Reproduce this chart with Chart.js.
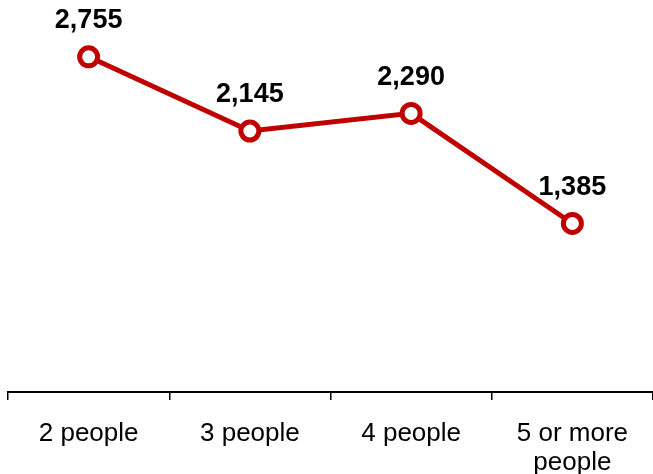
<!DOCTYPE html>
<html>
<head>
<meta charset="utf-8">
<script src="https://cdn.jsdelivr.net/npm/chart.js@4"></script>
<style>
  html, body { margin: 0; padding: 0; background: #fff; overflow: hidden; }
  #chart { position: absolute; left: 0; top: 0; }
</style>
</head>
<body>
<canvas id="chart" width="653" height="474"></canvas>
<script>
const categories = ["2 people", "3 people", "4 people", ["5 or more", "people"]];
const values = [2755, 2145, 2290, 1385];
const valueLabels = ["2,755", "2,145", "2,290", "1,385"];

const red = "#C00000";
const fontFamily = "'Liberation Sans', Arial, sans-serif";

// draws the bold numbers above each point
const pointLabels = {
    id: "pointLabels",
    afterDatasetsDraw(chart) {
        const ctx = chart.ctx;
        const meta = chart.getDatasetMeta(0);
        ctx.save();
        ctx.font = "bold 27px " + fontFamily;
        ctx.fillStyle = "#000";
        ctx.textAlign = "center";
        ctx.textBaseline = "middle";
        meta.data.forEach((pt, i) => {
            ctx.fillText(valueLabels[i], pt.x, pt.y - 36);
        });
        ctx.restore();
    },
};

var ctx = document.querySelector("#chart").getContext("2d");
var chart = new Chart(ctx, {
    type: "line",
    data: {
        labels: categories,
        datasets: [
            {
                data: values,
                borderColor: red,
                borderWidth: 5,
                pointRadius: 9,
                pointHoverRadius: 9,
                pointBackgroundColor: "#fff",
                pointBorderColor: red,
                pointBorderWidth: 5,
                tension: 0,
                clip: false,
            },
        ],
    },
    options: {
        responsive: false,
        animation: false,
        layout: { autoPadding: false, padding: { top: 27, left: 8, right: 0, bottom: 0 } },
        scales: {
            y: {
                display: false,
                min: 0,
                max: 3000,
            },
            x: {
                offset: true,
                border: { color: "#000", width: 2 },
                grid: {
                    drawOnChartArea: false,
                    color: "#000",
                    lineWidth: 1.5,
                    tickLength: 8,
                    offset: true,
                },
                ticks: {
                    color: "#000",
                    padding: 19,
                    maxRotation: 0,
                    autoSkip: false,
                    font: { family: fontFamily, size: 26, lineHeight: 1.12 },
                },
                afterFit(axis) {
                    axis.height = 82;
                },
            },
        },
        plugins: {
            legend: { display: false },
            tooltip: { enabled: false },
        },
    },
    plugins: [pointLabels],
});
</script>
</body>
</html>
